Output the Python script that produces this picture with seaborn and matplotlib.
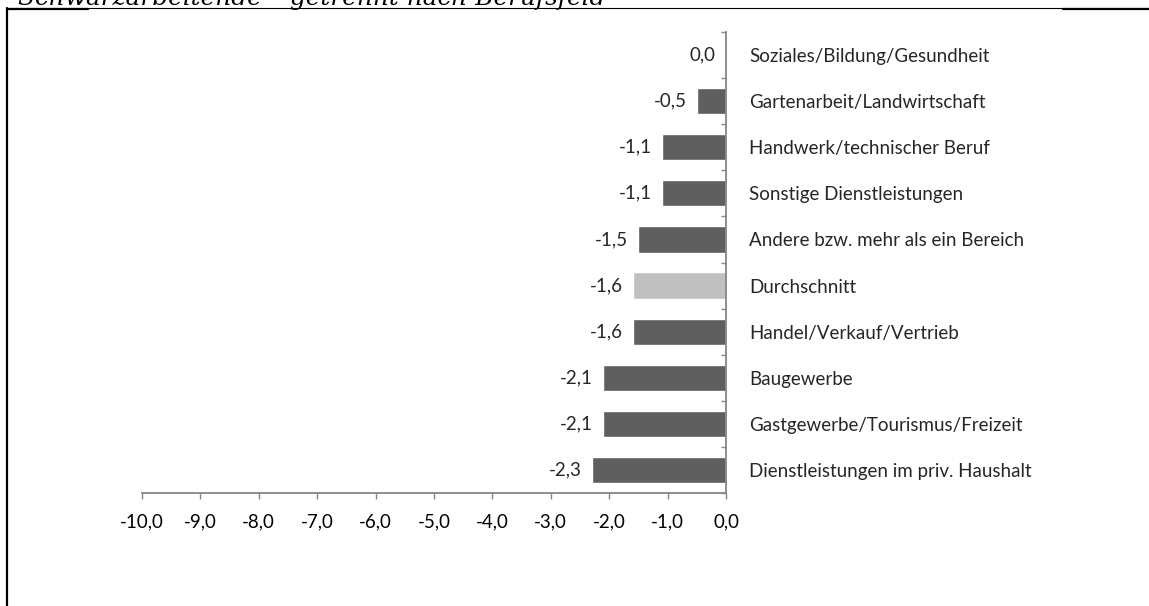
import seaborn as sns
import matplotlib.pyplot as plt
import pandas as pd
from matplotlib.lines import Line2D

categories = [
    "Soziales/Bildung/Gesundheit",
    "Gartenarbeit/Landwirtschaft",
    "Handwerk/technischer Beruf",
    "Sonstige Dienstleistungen",
    "Andere bzw. mehr als ein Bereich",
    "Durchschnitt",
    "Handel/Verkauf/Vertrieb",
    "Baugewerbe",
    "Gastgewerbe/Tourismus/Freizeit",
    "Dienstleistungen im priv. Haushalt",
]
values = [0.0, -0.5, -1.1, -1.1, -1.5, -1.6, -1.6, -2.1, -2.1, -2.3]
bar_colors = ["#5f5f5f"] * 5 + ["#c0c0c0"] + ["#5f5f5f"] * 4
xticks = [-10, -9, -8, -7, -6, -5, -4, -3, -2, -1, 0]

df = pd.DataFrame({"cat": categories, "val": values})

sns.set_style("white")
plt.rcParams["font.family"] = ["Lato", "DejaVu Sans"]
W, H = 1149, 606
fs = 13.5
fig = plt.figure(figsize=(W / 100, H / 100), dpi=100)
ax = fig.add_axes([142 / W, (H - 493) / H, (726 - 142) / W, (493 - 32) / H])

sns.barplot(data=df, x="val", y="cat", hue="cat", palette=bar_colors,
            legend=False, width=0.57, orient="h", ax=ax, saturation=1)

grey = "#868686"
ax.set_xlim(-10, 0)
ax.set_ylim(9.5, -0.5)
ax.set_xlabel("")
ax.set_ylabel("")
for s in ["top", "left"]:
    ax.spines[s].set_visible(False)
for s in ["right", "bottom"]:
    ax.spines[s].set_color(grey)
    ax.spines[s].set_linewidth(1.3)

ax.set_xticks(xticks)
ax.set_xticklabels([f"{t:.1f}".replace(".", ",") for t in xticks])
ax.tick_params(axis="x", bottom=True, direction="out", length=4.5, width=1,
               color=grey, pad=10.5, labelsize=fs, labelcolor="black")

ax.yaxis.set_ticks_position("right")
ax.set_yticks(range(len(categories)))
ax.set_yticklabels(categories)
ax.set_yticks([i - 0.5 for i in range(len(categories) + 1)], minor=True)
ax.tick_params(axis="y", which="major", right=True, length=0, pad=16.5,
               labelsize=fs)
ax.tick_params(axis="y", which="minor", right=True, direction="in",
               length=3.6, width=1, color=grey)

for i, v in enumerate(values):
    ax.annotate(f"{v:.1f}".replace(".", ",").replace("-0,0", "0,0"),
                xy=(v, i), xytext=(-10, 0), textcoords="offset pixels",
                ha="right", va="center", fontsize=fs)

# frame lines of the surrounding document
fig.add_artist(Line2D([7 / W, 1], [1 - 8 / H, 1 - 8 / H], color="black", lw=0.8))
fig.add_artist(Line2D([7 / W, 88 / W], [1 - 9 / H, 1 - 9 / H], color="black", lw=1.6))
fig.add_artist(Line2D([1063 / W, 1], [1 - 9 / H, 1 - 9 / H], color="black", lw=1.6))
fig.add_artist(Line2D([7 / W, 7 / W], [0, 1 - 8 / H], color="black", lw=1.6))

# title, cut off at the top edge as in the source
fig.text(18 / W, 1 - 5 / H, "Schwarzarbeitende – getrennt nach Berufsfeld",
         family="DejaVu Serif", style="italic", fontsize=17.8,
         ha="left", va="baseline", color="black")

fig.savefig("out.png", dpi=100)
